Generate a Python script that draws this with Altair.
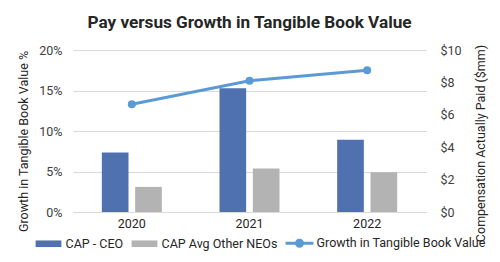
import altair as alt
import pandas as pd

years = ["2020", "2021", "2022"]
cap_ceo = [3.68, 7.64, 4.46]
cap_neo = [1.55, 2.69, 2.46]
growth = [13.3, 16.2, 17.5]
series = ["CAP - CEO", "CAP Avg Other NEOs", "Growth in Tangible Book Value"]
colors = ["#4F71B0", "#B3B3B3", "#5B9BD5"]
left_ticks = [0, 5, 10, 15, 20]
right_ticks = [0, 2, 4, 6, 8, 10]

FONT = "Roboto"

bars_df = pd.DataFrame({
    "year": years * 2,
    "series": [series[0]] * 3 + [series[1]] * 3,
    "value": cap_ceo + cap_neo,
})
line_df = pd.DataFrame({"year": years, "series": [series[2]] * 3, "value": growth})
legend_df = pd.DataFrame({"year": years, "series": series})

rect_path = "M-0.86,-0.22H0.86V0.22H-0.86Z"
line_path = ("M-0.93,-0.1H0.93V0.1H-0.93Z "
             "M-0.3,0A0.3,0.3 0 1,1 0.3,0A0.3,0.3 0 1,1 -0.3,0Z")

x_enc = alt.X(
    "year:N",
    sort=years,
    scale=alt.Scale(paddingInner=0.49, paddingOuter=0.245),
    axis=alt.Axis(title=None, labelAngle=0, domain=True, domainColor="#D9D9D9",
                  ticks=False, labelPadding=5, labelFontSize=12.5, labelColor="#262626"),
)

bar = alt.Chart(bars_df).mark_bar().encode(
    x=x_enc,
    xOffset=alt.XOffset("series:N", sort=series[:2],
                        scale=alt.Scale(domain=series[:2], paddingInner=0.2, paddingOuter=0)),
    y=alt.Y("value:Q", scale=alt.Scale(domain=[0, 10]),
            axis=alt.Axis(orient="right", title="Compensation Actually Paid ($mm)",
                          values=right_ticks, labelExpr="'$' + datum.value",
                          grid=False, domain=False, ticks=False, titleAngle=270,
                          titleBaseline="middle", titleX=54, titleY=93,
                          labelPadding=14)),
    fill=alt.Fill("series:N", scale=alt.Scale(domain=series[:2], range=colors[:2]), legend=None),
)

ln = alt.Chart(line_df).mark_line(
    color=colors[2], strokeWidth=3,
    point=alt.OverlayMarkDef(filled=True, size=64, color=colors[2]),
).encode(
    x=alt.X("year:N", sort=years),
    y=alt.Y("value:Q", scale=alt.Scale(domain=[0, 20]),
            axis=alt.Axis(orient="left", title="Growth in Tangible Book Value %",
                          values=left_ticks, labelExpr="datum.value + '%'",
                          grid=True, gridColor="#D9D9D9", domain=False, ticks=False,
                          titleAngle=270, titleBaseline="middle", titleX=-50, titleY=91,
                          labelPadding=11)),
)

legend_kw = dict(title=None, orient="none", direction="horizontal", legendX=-40.5, legendY=177,
                 symbolSize=900, labelFontSize=12.5, labelColor="#262626",
                 symbolOpacity=1, columnPadding=5, labelOffset=1, padding=0, labelLimit=300)

leg = alt.Chart(legend_df).transform_filter("false").mark_point(filled=True).encode(
    color=alt.Color("series:N", scale=alt.Scale(domain=series, range=colors),
                    legend=alt.Legend(**legend_kw)),
    shape=alt.Shape("series:N", scale=alt.Scale(domain=series, range=[rect_path, rect_path, line_path]),
                    legend=alt.Legend(**legend_kw)),
)

chart = alt.layer(bar, ln, leg).resolve_scale(y="independent").properties(
    width=353, height=162,
    title=alt.TitleParams("Pay versus Growth in Tangible Book Value", fontSize=17.2,
                          fontWeight="bold", color="#262626", font=FONT, offset=13),
    autosize=alt.AutoSizeParams(type="none"),
    padding={"left": 73, "right": 74, "top": 50, "bottom": 50},
).configure(font=FONT).configure_axis(
    labelFont=FONT, titleFont=FONT, labelFontSize=12.5, titleFontSize=12.5,
    labelColor="#404040", titleColor="#262626", titleFontWeight="normal",
).configure_legend(labelFont=FONT).configure_view(stroke=None)

chart.save("out.html", embed_options={"renderer": "svg", "actions": False})
